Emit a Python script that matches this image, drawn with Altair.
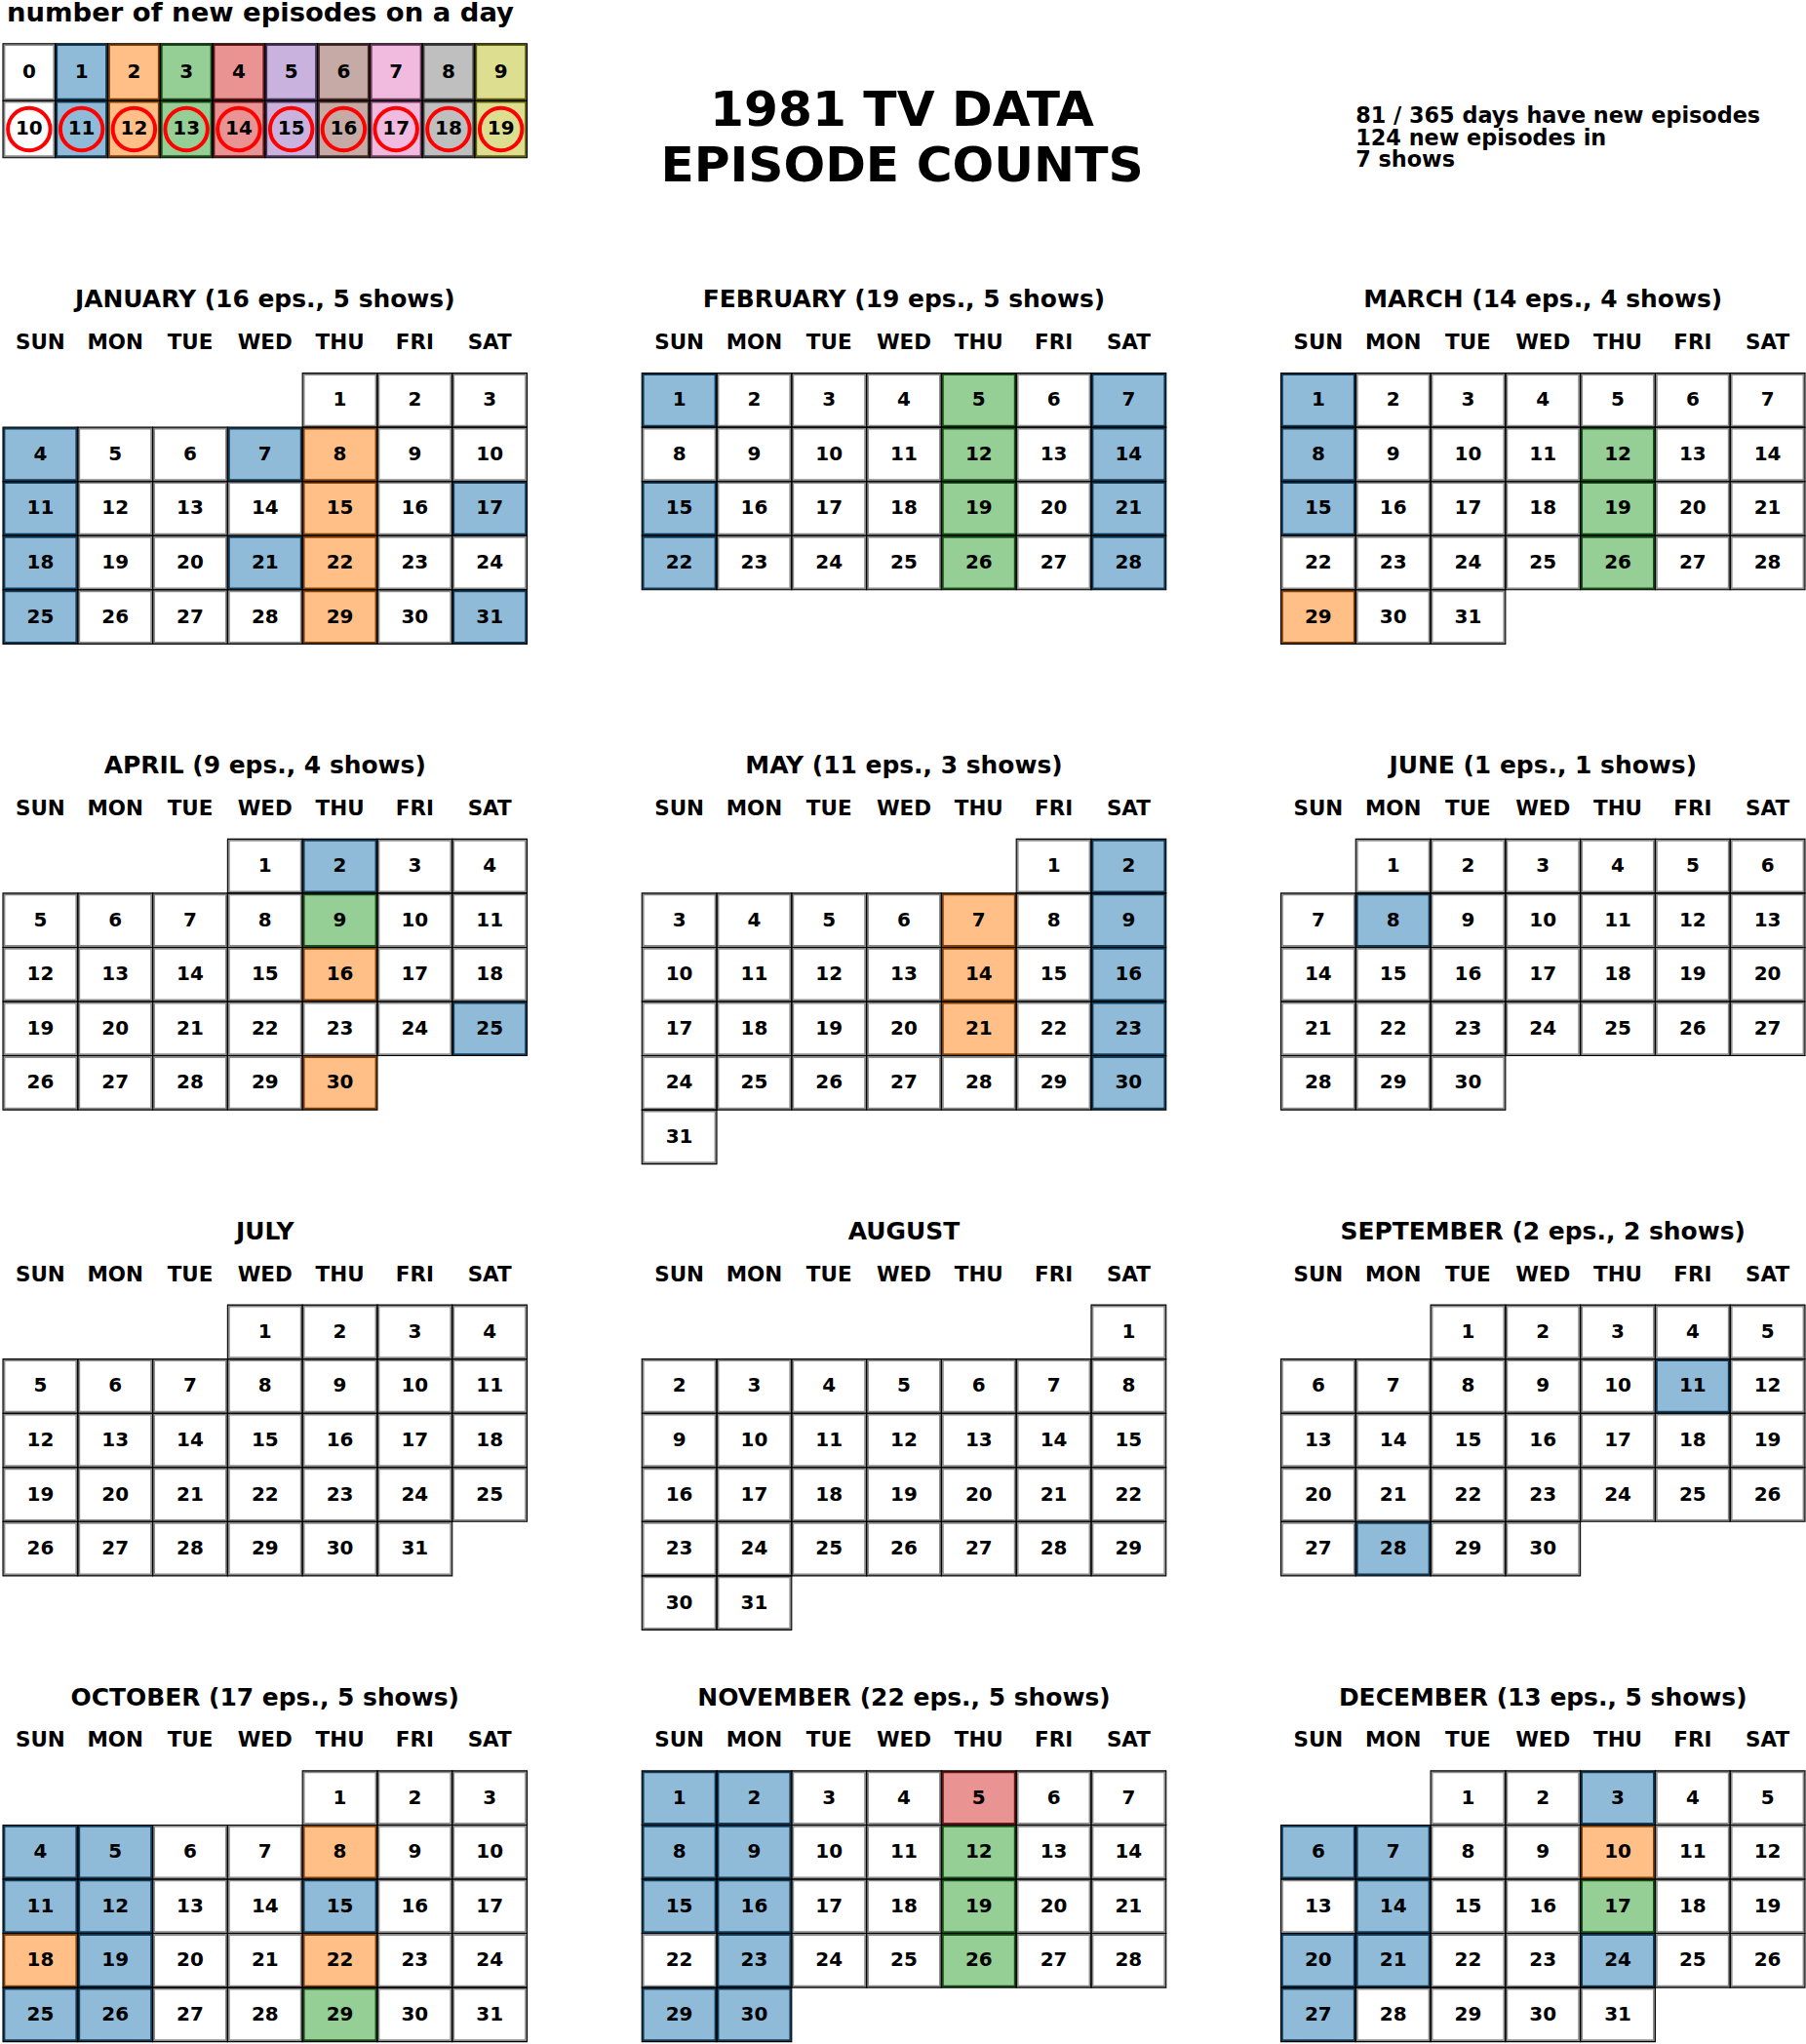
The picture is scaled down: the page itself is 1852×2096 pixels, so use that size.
import calendar
import datetime
import altair as alt
import pandas as pd

FONT = "DejaVu Sans"
YEAR = 1981

MONTH_NAMES = ["JANUARY", "FEBRUARY", "MARCH", "APRIL", "MAY", "JUNE",
               "JULY", "AUGUST", "SEPTEMBER", "OCTOBER", "NOVEMBER", "DECEMBER"]
WEEKDAYS = ["SUN", "MON", "TUE", "WED", "THU", "FRI", "SAT"]
SHOWS_PER_MONTH = [5, 5, 4, 4, 3, 1, 0, 0, 2, 5, 5, 5]
TOTAL_SHOWS = 7

# days (per month) with 1, 2, 3 and 4 new episodes
DAYS_1 = {1: [4, 7, 11, 17, 18, 21, 25, 31], 2: [1, 7, 14, 15, 21, 22, 28], 3: [1, 8, 15],
          4: [2, 25], 5: [2, 9, 16, 23, 30], 6: [8], 9: [11, 28],
          10: [4, 5, 11, 12, 15, 19, 25, 26], 11: [1, 2, 8, 9, 15, 16, 23, 29, 30],
          12: [3, 6, 7, 14, 20, 21, 24, 27]}
DAYS_2 = {1: [8, 15, 22, 29], 3: [29], 4: [16, 30], 5: [7, 14, 21], 10: [8, 18, 22], 12: [10]}
DAYS_3 = {2: [5, 12, 19, 26], 3: [12, 19, 26], 4: [9], 10: [29], 11: [12, 19, 26], 12: [17]}
DAYS_4 = {11: [5]}

LEGEND_VALUES = list(range(20))
LEGEND_TITLE = "number of new episodes on a day"
FILL_COLORS = ["#ffffff", "#8fbbd9", "#ffbf86", "#95cf95", "#ea9393",
               "#c9b3de", "#c5aaa5", "#f1bbe0", "#bfbfbf", "#dede90"]
EDGE_COLORS = ["#8a8a8a", "#103c5a", "#804007", "#165016", "#6b1414",
               "#4a345f", "#462b26", "#723c61", "#404040", "#5e5f11"]
TITLE_LINES = ["1981 TV DATA", "EPISODE COUNTS"]

CELL_W = 77.0
CELL_H = 55.7
LEG_W = 539.0
LEG_H = 117.3
EDGE_W = 2.4


def month_frame(m):
    counts = {}
    for c, table in ((1, DAYS_1), (2, DAYS_2), (3, DAYS_3), (4, DAYS_4)):
        for d in table.get(m, []):
            counts[d] = c
    ndays = calendar.monthrange(YEAR, m)[1]
    first = (datetime.date(YEAR, m, 1).weekday() + 1) % 7
    rows = []
    for d in range(1, ndays + 1):
        pos = first + d - 1
        rows.append({"day": d, "wd": WEEKDAYS[pos % 7], "week": pos // 7,
                     "count": counts.get(d, 0)})
    return pd.DataFrame(rows)


frames = {m: month_frame(m) for m in range(1, 13)}
total_eps = int(sum(f["count"].sum() for f in frames.values()))
days_with = int(sum((f["count"] > 0).sum() for f in frames.values()))
ndays_year = int(sum(len(f) for f in frames.values()))
STATS_LINES = [f"{days_with} / {ndays_year} days have new episodes",
               f"{total_eps} new episodes in",
               f"{TOTAL_SHOWS} shows"]

fill_scale = alt.Scale(domain=list(range(10)), range=FILL_COLORS)
edge_scale = alt.Scale(domain=list(range(10)), range=EDGE_COLORS)


def cell_layers(df, x, y, field, cw, ch):
    """coloured cell (inset, with its own darker edge) plus a thin black outline"""
    inner = alt.Chart(df).mark_rect(
        strokeWidth=EDGE_W,
        width={"band": (cw - EDGE_W) / cw}, height={"band": (ch - EDGE_W) / ch}).encode(
        x=x, y=y,
        fill=alt.Fill(f"{field}:O", scale=fill_scale, legend=None),
        stroke=alt.Stroke(f"{field}:O", scale=edge_scale, legend=None))
    outline = alt.Chart(df).mark_rect(fill=None, stroke="black", strokeWidth=1.1, opacity=1).encode(
        x=x, y=y)
    return [inner, outline]


def month_chart(m, nrows):
    df = frames[m]
    eps = int(df["count"].sum())
    name = MONTH_NAMES[m - 1]
    title = name if eps == 0 else f"{name} ({eps} eps., {SHOWS_PER_MONTH[m - 1]} shows)"
    x = alt.X("wd:N", sort=WEEKDAYS,
              scale=alt.Scale(domain=WEEKDAYS, paddingInner=0, paddingOuter=0),
              axis=alt.Axis(orient="top", title=None, domain=False, ticks=False, tickSize=0,
                            labelPadding=25, labelBaseline="alphabetic", labelAngle=0,
                            labelFontSize=21.5, labelFont=FONT, labelFontWeight="bold",
                            labelColor="black", grid=False))
    y = alt.Y("week:O", scale=alt.Scale(domain=list(range(nrows)), paddingInner=0, paddingOuter=0),
              axis=None)
    text = alt.Chart(df).mark_text(font=FONT, fontWeight="bold", fontSize=20, color="black",
                                   baseline="middle", align="center").encode(
        x=x, y=y, text="day:Q")
    return alt.layer(*cell_layers(df, x, y, "count", CELL_W, CELL_H), text).properties(
        width=7 * CELL_W, height=nrows * CELL_H,
        title=alt.TitleParams(text=title, font=FONT, fontWeight="bold", fontSize=25,
                              color="black", anchor="middle", baseline="alphabetic", offset=0.5))


# ---- legend + header texts (one panel) ----
leg_df = pd.DataFrame({"v": LEGEND_VALUES})
leg_df["col"] = leg_df["v"] % 10
leg_df["row"] = leg_df["v"] // 10
leg_df["c"] = leg_df["v"] % 10

lx = alt.X("col:O", scale=alt.Scale(domain=list(range(10)), paddingInner=0, paddingOuter=0), axis=None)
ly = alt.Y("row:O", scale=alt.Scale(domain=[0, 1], paddingInner=0, paddingOuter=0), axis=None)
leg_ring = alt.Chart(leg_df).transform_filter("datum.v >= 10").mark_point(
    shape="circle", filled=False, color="red", strokeWidth=4, size=1900, opacity=1).encode(x=lx, y=ly)
leg_text = alt.Chart(leg_df).mark_text(font=FONT, fontWeight="bold", fontSize=20, color="black",
                                       baseline="middle", align="center").encode(
    x=lx, y=ly, text="v:Q")

head_df = pd.DataFrame({"legend_title": [LEGEND_TITLE],
                        "title": ["\n".join(TITLE_LINES)],
                        "stats": ["\n".join(STATS_LINES)]})
leg_title = alt.Chart(head_df).mark_text(font=FONT, fontWeight="bold", fontSize=27.5, color="black",
                                         align="left", baseline="top").encode(
    x=alt.value(4), y=alt.value(-45), text="legend_title:N")
big = alt.Chart(head_df).mark_text(font=FONT, fontWeight="bold", fontSize=50.4, color="black",
                                   align="center", baseline="top", lineBreak="\n", lineHeight=57).encode(
    x=alt.value(924.5), y=alt.value(45), text="title:N")
stats = alt.Chart(head_df).mark_text(font=FONT, fontWeight="bold", fontSize=22.4, color="black",
                                     align="left", baseline="top", lineBreak="\n", lineHeight=22.5).encode(
    x=alt.value(1391), y=alt.value(63.7), text="stats:N")

top = alt.layer(*cell_layers(leg_df, lx, ly, "c", LEG_W / 10, LEG_H / 2), leg_ring, leg_text,
                leg_title, big, stats).properties(width=LEG_W, height=LEG_H)

rows = []
for r in range(4):
    charts = [month_chart(3 * r + i + 1, 6 if r < 3 else 5) for i in range(3)]
    rows.append(alt.hconcat(*charts, spacing=116))
months = alt.vconcat(*rows, spacing=56.05)

chart = alt.vconcat(top, months, spacing=97.8).properties(
    padding={"top": -3, "left": 0, "right": 0, "bottom": 0},
    background="white").configure_view(stroke=None)

chart.save("out.html", embed_options={"renderer": "svg", "actions": False})
